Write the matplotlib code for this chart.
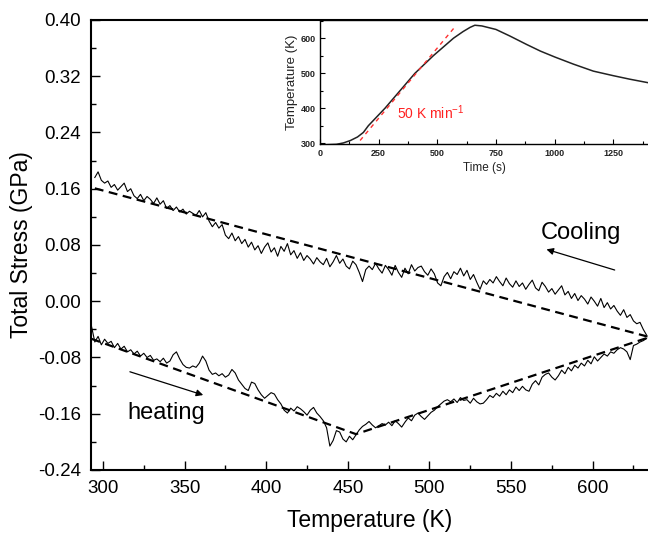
import numpy as np
import matplotlib
matplotlib.use("Agg")
import matplotlib.pyplot as plt
from matplotlib.ticker import MultipleLocator, FormatStrFormatter

plt.rcParams["font.family"] = ["Liberation Sans", "DejaVu Sans"]
plt.rcParams["axes.unicode_minus"] = False
plt.rcParams["mathtext.default"] = "regular"

# cooling branch, sampled every 2 K from 295 K
cool_start, cool_step = 295, 2
cool_stress = [
    0.176, 0.184, 0.172, 0.168, 0.171, 0.162, 0.166, 0.158, 0.163, 0.168,
    0.156, 0.160, 0.150, 0.146, 0.152, 0.143, 0.149, 0.145, 0.139, 0.147,
    0.138, 0.143, 0.132, 0.136, 0.129, 0.134, 0.127, 0.131, 0.124, 0.128,
    0.125, 0.122, 0.129, 0.120, 0.126, 0.114, 0.106, 0.112, 0.104, 0.109,
    0.094, 0.089, 0.097, 0.086, 0.092, 0.082, 0.088, 0.077, 0.084, 0.073,
    0.079, 0.068, 0.077, 0.083, 0.070, 0.076, 0.064, 0.078, 0.071, 0.082,
    0.066, 0.072, 0.061, 0.069, 0.058, 0.065, 0.060, 0.053, 0.062, 0.056,
    0.052, 0.061, 0.049, 0.056, 0.065, 0.054, 0.060, 0.050, 0.046, 0.057,
    0.052, 0.041, 0.028, 0.045, 0.050, 0.045, 0.054, 0.046, 0.040, 0.051,
    0.045, 0.037, 0.051, 0.041, 0.034, 0.047, 0.039, 0.052, 0.043, 0.048,
    0.050, 0.042, 0.037, 0.046, 0.039, 0.026, 0.022, 0.035, 0.041, 0.032,
    0.042, 0.038, 0.047, 0.036, 0.044, 0.031, 0.038, 0.027, 0.017, 0.029,
    0.024, 0.031, 0.026, 0.035, 0.028, 0.022, 0.033, 0.025, 0.020, 0.029,
    0.021, 0.026, 0.017, 0.024, 0.030, 0.019, 0.015, 0.027, 0.021, 0.013,
    0.018, 0.010, 0.016, 0.022, 0.009, 0.014, 0.004, 0.011, 0.001, 0.008,
    0.003, -0.004, 0.006, 0.000, -0.007, 0.004, -0.009, -0.002, -0.011, -0.006,
    -0.014, -0.020, -0.012, -0.023, -0.019, -0.028, -0.032, -0.030, -0.040, -0.048,
]

# heating branch, sampled every 2 K from 293 K
heat_start, heat_step = 293, 2
heat_stress = [
    -0.036, -0.058, -0.050, -0.062, -0.054, -0.060, -0.057, -0.066, -0.060, -0.068,
    -0.064, -0.072, -0.069, -0.075, -0.071, -0.078, -0.074, -0.080, -0.077, -0.084,
    -0.082, -0.086, -0.081, -0.088, -0.085, -0.076, -0.072, -0.082, -0.090, -0.094,
    -0.095, -0.092, -0.094, -0.088, -0.078, -0.085, -0.098, -0.104, -0.102, -0.106,
    -0.103, -0.108, -0.105, -0.097, -0.102, -0.112, -0.118, -0.124, -0.127, -0.115,
    -0.117, -0.126, -0.133, -0.138, -0.134, -0.130, -0.132, -0.140, -0.146, -0.155,
    -0.159, -0.152, -0.156, -0.150, -0.153, -0.157, -0.162, -0.155, -0.151, -0.159,
    -0.164, -0.170, -0.180, -0.206, -0.198, -0.184, -0.186, -0.196, -0.200, -0.192,
    -0.197, -0.190, -0.183, -0.178, -0.175, -0.171, -0.176, -0.180, -0.177, -0.174,
    -0.176, -0.172, -0.177, -0.170, -0.174, -0.179, -0.172, -0.166, -0.170, -0.162,
    -0.159, -0.164, -0.168, -0.163, -0.158, -0.155, -0.150, -0.146, -0.142, -0.140,
    -0.143, -0.139, -0.144, -0.137, -0.141, -0.140, -0.145, -0.138, -0.143, -0.146,
    -0.145, -0.140, -0.134, -0.137, -0.131, -0.135, -0.128, -0.133, -0.126, -0.130,
    -0.122, -0.127, -0.121, -0.126, -0.128, -0.118, -0.113, -0.119, -0.108, -0.104,
    -0.102, -0.108, -0.112, -0.106, -0.098, -0.103, -0.094, -0.099, -0.091, -0.095,
    -0.088, -0.092, -0.084, -0.089, -0.079, -0.085, -0.080, -0.075, -0.078, -0.072,
    -0.074, -0.069, -0.066, -0.068, -0.072, -0.083, -0.063, -0.061, -0.058, -0.056,
    -0.053,
]

# linear fits (dashed)
cool_fit_T = [295, 634]
cool_fit_S = [0.1606, -0.0505]
heat_fit_T = [293, 455, 634]
heat_fit_S = [-0.0535, -0.189, -0.0517]

# inset: furnace temperature profile
time_s = [30, 70, 100, 130, 160, 185, 206, 240, 277, 341, 405, 483, 569, 610,
          640, 660, 690, 750, 810, 881, 940, 1002, 1080, 1165, 1250, 1320, 1398]
temp_K = [296, 297, 301, 308, 318, 331, 350, 374, 400, 450, 500, 550, 600, 619,
          631, 637, 635, 625, 606, 582, 563, 546, 526, 506, 493, 483, 473]
rate_t = [171, 576]
rate_T = [308, 633]

cool_T = cool_start + cool_step * np.arange(len(cool_stress))
heat_T = heat_start + heat_step * np.arange(len(heat_stress))

fig = plt.figure(figsize=(6.48, 5.33), dpi=100)
ax = fig.add_axes([0.1404, 0.1182, 0.8596, 0.8443])

ax.plot(cool_T, cool_stress, color="black", lw=0.8)
ax.plot(heat_T, heat_stress, color="black", lw=0.8)
ax.plot(cool_fit_T, cool_fit_S, color="black", lw=1.6, ls=(0, (4, 2.5)))
ax.plot(heat_fit_T, heat_fit_S, color="black", lw=1.6, ls=(0, (4, 2.5)))

ax.set_xlim(292.65, 633.9)
ax.set_ylim(-0.24, 0.40)
ax.xaxis.set_major_locator(MultipleLocator(50))
ax.xaxis.set_minor_locator(MultipleLocator(25))
ax.yaxis.set_major_locator(MultipleLocator(0.08))
ax.yaxis.set_minor_locator(MultipleLocator(0.04))
ax.yaxis.set_major_formatter(FormatStrFormatter("%.2f"))
ax.tick_params(which="major", direction="in", length=6.8, width=1.0,
               labelsize=13.5, pad=7)
ax.tick_params(which="minor", direction="in", length=3.6, width=1.0)
for s in ax.spines.values():
    s.set_linewidth(1.5)
ax.spines["right"].set_visible(False)

for t in ax.yaxis.get_major_ticks():
    if abs(t.get_loc()) < 1e-9:
        t.tick1line.set_color("red")

ax.set_xlabel("Temperature (K)", fontsize=16.5, labelpad=9)
ax.set_ylabel("Total Stress (GPa)", fontsize=16.5, labelpad=4)

ax.text(592.7, 0.097, "Cooling", fontsize=17, ha="center", va="center")
ax.annotate("", xy=(571.7, 0.0738), xytext=(613.5, 0.0444),
            arrowprops=dict(arrowstyle="-|>", lw=0.9, color="black",
                            mutation_scale=10, shrinkA=0, shrinkB=0))
ax.text(338.6, -0.159, "heating", fontsize=17, ha="center", va="center")
ax.annotate("", xy=(361.4, -0.1334), xytext=(316.5, -0.1003),
            arrowprops=dict(arrowstyle="-|>", lw=0.9, color="black",
                            mutation_scale=10, shrinkA=0, shrinkB=0))

# inset
ins = fig.add_axes([0.4938, 0.7289, 0.5062, 0.2336])
ins.plot(time_s, temp_K, color="#222222", lw=1.1)
ins.plot(rate_t, rate_T, color="#ff3030", lw=1.0, ls=(0, (3, 3)))
ins.text(327, 386, "50 K min$^{-1}$", color="#ff2020", fontsize=10,
         ha="left", va="center")
ins.set_xlim(0, 1398)
ins.set_ylim(296.5, 652)
ins.xaxis.set_major_locator(MultipleLocator(250))
ins.xaxis.set_minor_locator(MultipleLocator(125))
ins.yaxis.set_major_locator(MultipleLocator(100))
ins.yaxis.set_minor_locator(MultipleLocator(50))
ins.tick_params(which="major", direction="in", length=3.5, width=0.8,
                labelsize=6.5, pad=3, labelcolor="#222222")
ins.tick_params(which="minor", direction="in", length=2, width=0.8)
for lab in ins.get_xticklabels() + ins.get_yticklabels():
    lab.set_fontweight("bold")
for s in ins.spines.values():
    s.set_linewidth(1.0)
ins.spines["right"].set_visible(False)
ins.set_xlabel("Time (s)", fontsize=8.5, labelpad=3, color="#222222")
ins.set_ylabel("Temperature (K)", fontsize=9.5, labelpad=2, color="#222222")

fig.savefig("out.png", dpi=100)
